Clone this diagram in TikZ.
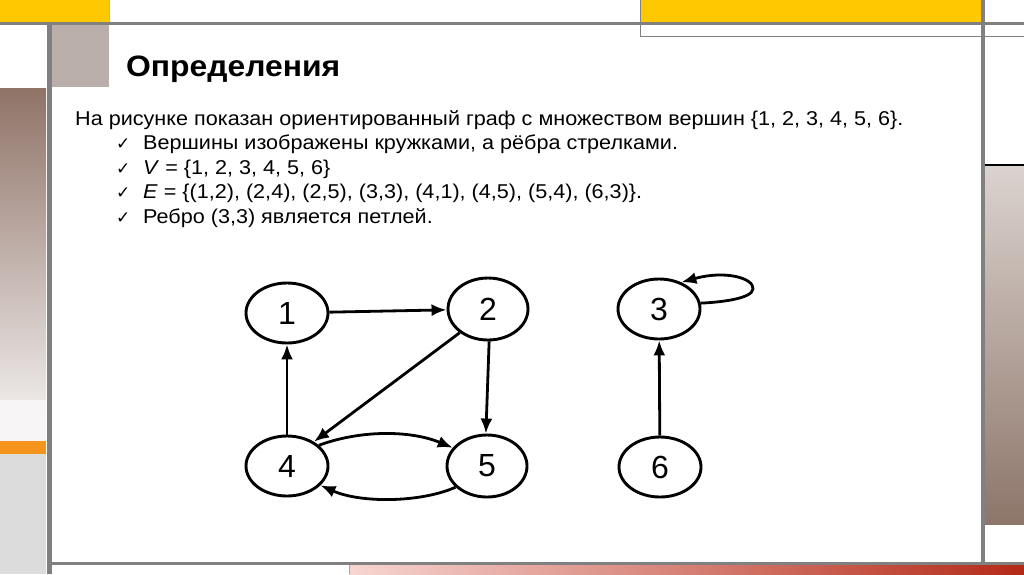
\documentclass[tikz,border=0pt]{standalone}
\usepackage{fontspec}
\setmainfont{Liberation Sans}
\newfontfamily\symfont{DejaVu Sans}
\newfontfamily\widefont[FakeStretch=1.08]{Liberation Sans}
\newfontfamily\widetitle[FakeStretch=1.08]{Liberation Sans Bold}
\usetikzlibrary{arrows.meta,shapes.geometric}
\definecolor{barYellow}{HTML}{FFC800}
\definecolor{lineGray}{HTML}{808080}
\definecolor{taupeSq}{HTML}{B9AEAA}
\definecolor{brownTop}{HTML}{8F7367}
\definecolor{brownWhite}{HTML}{F7F5F5}
\definecolor{orangeBar}{HTML}{F7941E}
\definecolor{paleGray}{HTML}{DCDCDC}
\definecolor{rightTop}{HTML}{DBD3CF}
\definecolor{rightBot}{HTML}{8D7569}
\definecolor{pinkLeft}{HTML}{F7D6D2}
\definecolor{redRight}{HTML}{B42A17}
\tikzset{
  vert/.style={ellipse, draw, line width=2.9pt, minimum width=82pt, minimum height=60pt, inner sep=0pt, font=\fontsize{32}{34}\selectfont},
  edge/.style={line width=2.8pt, -{Latex[length=15pt,width=12pt]}},
  body/.style={anchor=base west, inner sep=0pt, font=\widefont\fontsize{20}{24}\selectfont},
  tick/.style={anchor=base west, inner sep=0pt, font=\symfont\fontsize{17}{20}\selectfont}
}
\begin{document}
\begin{tikzpicture}[x=1pt,y=-1pt]
\useasboundingbox (0,0) rectangle (1024,574);
% top-left decorations
\fill[fill=barYellow] (0,0) rectangle (109,22);
\draw[lineGray!60, line width=0.8pt] (109.5,0) -- (109.5,23);
\fill[fill=taupeSq] (52,24) rectangle (109,87);
\fill[top color=brownTop, bottom color=brownWhite] (0,88) rectangle (46,440);
\fill[fill=brownWhite] (0,400) rectangle (46,441);
\fill[fill=orangeBar] (0,441) rectangle (46,454);
\fill[fill=paleGray] (0,454) rectangle (46,574);
% top-right decorations
\fill[fill=barYellow] (640,0) rectangle (981,22);
\draw[lineGray, line width=1pt] (640,0) -- (640,36) -- (981,36);
\draw[lineGray, line width=1pt] (985,36) -- (1024,36);
% right gradient
\fill[top color=rightTop, bottom color=rightBot] (985,165) rectangle (1024,524);
\draw[black, line width=1.8pt] (983,165) -- (1024,165);
% bottom gradient
\fill[left color=pinkLeft, right color=redRight] (349,565) rectangle (1024,574);
\draw[lineGray!70, line width=0.8pt] (349,565) -- (349,574);
% main gray lines
\fill[fill=lineGray] (0,22) rectangle (1024,24.5);
\fill[fill=lineGray] (46.5,22) rectangle (52,574);
\fill[fill=lineGray] (981,0) rectangle (985,565);
\fill[fill=lineGray] (46.5,561.5) rectangle (1024,565);

% title
\node[anchor=base west, inner sep=0pt, font=\widetitle\fontsize{29.5}{32}\selectfont] (title) at (126,76) {Определения};
% body
\node[body] (l1) at (75,125) {На рисунке показан ориентированный граф с множеством вершин \{1, 2, 3, 4, 5, 6\}.};
\node[tick] (c2) at (116,149.5) {✓};
\node[body] (l2) at (143,149.5) {Вершины изображены кружками, а рёбра стрелками.};
\node[tick] (c3) at (116,174) {✓};
\node[body] (l3) at (143,174) {\textit{V} = \{1, 2, 3, 4, 5, 6\}};
\node[tick] (c4) at (116,198.5) {✓};
\node[body] (l4) at (143,198.5) {\textit{E} = \{(1,2), (2,4), (2,5), (3,3), (4,1), (4,5), (5,4), (6,3)\}.};
\node[tick] (c5) at (116,223) {✓};
\node[body] (l5) at (143,223) {Ребро (3,3) является петлей.};

% graph
\node[vert] (n1) at (287,313) {1};
\node[vert, minimum width=80pt, minimum height=62pt] (n2) at (488,309) {2};
\node[vert] (n3) at (659,309) {3};
\node[vert] (n4) at (287,466) {4};
\node[vert, minimum width=80pt, minimum height=62pt] (n5) at (487,466) {5};
\node[vert] (n6) at (660,467) {6};

\draw[edge] (n1) -- (n2);
\draw[edge] (n2.220) -- (n4.42);
\draw[edge] (n2.272) -- (n5.92);
\draw[edge] (n4) -- (n1);
\draw[edge] (n6) -- (n3);
\draw[edge] (n4.33) .. controls (360,430) and (410,430) .. (n5.152);
\draw[edge] (n5.214) .. controls (420,503) and (360,503) .. (n4.330);
\draw[edge] (n3.8) .. controls (725,302) and (752,298) .. (753,289) .. controls (754,278) and (725,270) .. (n3.50);
\end{tikzpicture}
\end{document}
